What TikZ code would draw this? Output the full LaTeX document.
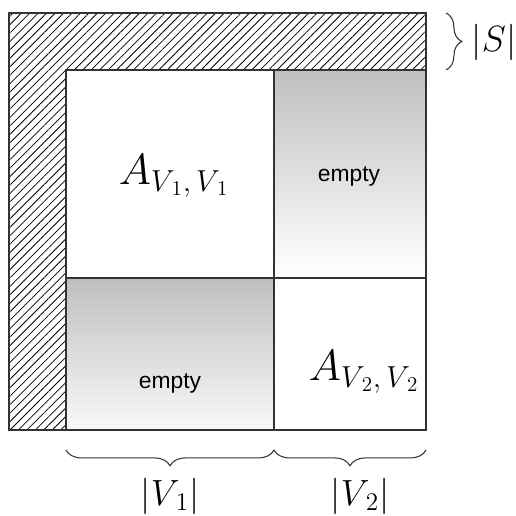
\documentclass[tikz,border=0pt]{standalone}
\usepackage{fontspec}
\newfontfamily\arialfont{Liberation Sans}
\usepackage{tikz}
\usetikzlibrary{patterns.meta,decorations.pathreplacing,positioning}

\begin{document}
\begin{tikzpicture}[x=0.02cm, y=-0.02cm, font=\rmfamily,
  blocklabel/.style={font=\fontsize{23}{27}\selectfont, inner sep=0pt},
  emptylabel/.style={font=\arialfont\fontsize{13}{15}\selectfont, inner sep=0pt},
  sizelabel/.style={font=\fontsize{20}{24}\selectfont, inner sep=0pt},
  bracedeco/.style={decorate, decoration={brace, amplitude=#1}, line width=0.6pt, black!80}]

\useasboundingbox (0,0) rectangle (516,516);

% Hatched border region (separator rows/columns)
\fill[pattern={Lines[angle=45, distance=3.4pt, line width=0.45pt]}] (9,13) rectangle (426,430);

% Diagonal blocks
\fill[white] (66,70) rectangle (274,278);
\fill[white] (274,278) rectangle (426,430);

% Off-diagonal blocks (empty)
\shade[top color=gray!50, bottom color=white] (274,70) rectangle (426,278);
\shade[top color=gray!50, bottom color=gray!5] (66,278) rectangle (274,430);

% Block outlines
\draw[line width=0.7pt, black!80] (9,13) rectangle (426,430);
\draw[line width=0.7pt, black!80] (66,430) -- (66,70) -- (426,70);
\draw[line width=0.7pt, black!80] (274,70) -- (274,430);
\draw[line width=0.7pt, black!80] (66,278) -- (426,278);

% Block labels
\node[blocklabel] (a11) at (174,176) {$A_{V_{\,1},\,V_{\,1}}$};
\node[blocklabel] (a22) at (364,372) {$A_{V_{\,2},\,V_{\,2}}$};
\node[emptylabel] (e12) at (349,176) {empty};
\node[emptylabel] (e21) at (170,383) {empty};

% Braces
\coordinate (sTop) at (446,13);
\coordinate (sBot) at (446,70);
\coordinate (v1L) at (66,450);
\coordinate (v1R) at (274,450);
\coordinate (v2L) at (274,450);
\coordinate (v2R) at (426,450);

\draw[bracedeco=9pt] (sTop) -- (sBot);
\draw[bracedeco=9pt] (v1R) -- (v1L);
\draw[bracedeco=9pt] (v2R) -- (v2L);

% Size labels
\node[sizelabel] (sLbl) at (494,42) {$|S|$};
\node[sizelabel] (v1Lbl) at (170,496) {$|V_{\,1}|$};
\node[sizelabel] (v2Lbl) at (360,496) {$|V_{\,2}|$};

\end{tikzpicture}
\end{document}
